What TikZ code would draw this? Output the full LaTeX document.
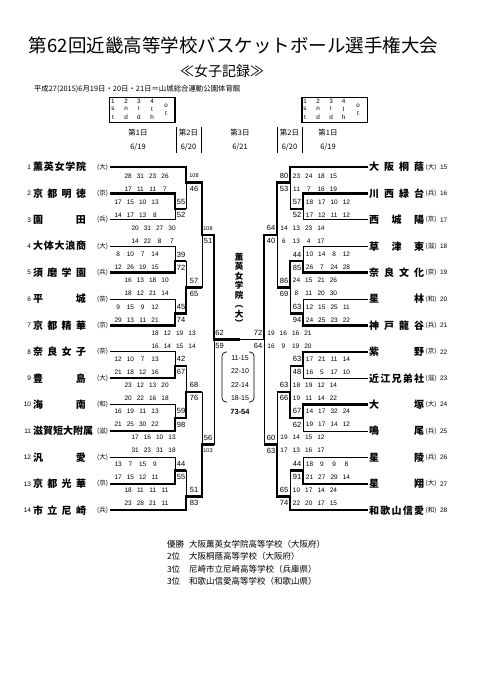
\documentclass[tikz,border=0pt]{standalone}
\usepackage{fontspec}
\setmainfont{Noto Sans CJK JP}
\newfontfamily\nf{Liberation Sans}
\newcommand\qq[4]{\makebox[12.3pt]{#1}\makebox[12.3pt]{#2}\makebox[12.3pt]{#3}\makebox[12.3pt]{#4}}
\newcommand\smn[1]{{\fontsize{5.5}{5.5}\selectfont #1}}
\begin{document}
\begin{tikzpicture}[x=1pt,y=-1pt,
  every node/.style={inner sep=0pt,outer sep=0pt},
  thinl/.style={line width=0.7pt},
  winl/.style={line width=2.4pt,line join=miter},
  legbox/.style={line width=1.1pt},
  sc/.style={font=\nf\fontsize{7.5}{7.5}\selectfont},
  qL/.style={font=\nf\fontsize{6.5}{6.5}\selectfont,anchor=east},
  qR/.style={font=\nf\fontsize{6.5}{6.5}\selectfont,anchor=west},
  tname/.style={font=\bfseries\fontsize{10}{10}\selectfont,anchor=west},
  pref/.style={font=\fontsize{6.5}{6.5}\selectfont},
  tnum/.style={font=\nf\fontsize{6.5}{6.5}\selectfont},
  hdr/.style={font=\fontsize{7.5}{7.5}\selectfont},
  leg/.style={font=\nf\fontsize{6.3}{6.3}\selectfont},
  res/.style={font=\fontsize{8.5}{8.5}\selectfont,anchor=west},
]
\fill[white] (0,0) rectangle (481,680);
\useasboundingbox (0,0) rectangle (481,680);

% title
\node[font=\fontsize{18.5}{18.5}\selectfont] (title) at (233.5,45) {第62回近畿高等学校バスケットボール選手権大会};
\node[font=\fontsize{14}{14}\selectfont] (subtitle) at (222,71) {≪女子記録≫};
\node[font=\fontsize{7.4}{7.4}\selectfont,anchor=west] (info) at (34,89) {平成27(2015)6月19日・20日・21日＝山城総合運動公園体育館};

% legends
\draw[legbox] (109.5,97.5) rectangle (175,122.5);
\draw[legbox] (302,97.5) rectangle (367.5,122.5);
\foreach \k/\xa/\xb/\m/\b in {1/113/305/s/t, 2/126/318/n/d, 3/139/331/r/d, 4/152/343.5/t/h}{
  \node[leg] (la\k) at (\xa,101.5) {\k};
  \node[leg] (lb\k) at (\xa,109.3) {\m};
  \node[leg] (lc\k) at (\xa,117) {\b};
  \node[leg] (ra\k) at (\xb,101.5) {\k};
  \node[leg] (rb\k) at (\xb,109.3) {\m};
  \node[leg] (rc\k) at (\xb,117) {\b};
}
\node[leg] (lo) at (166,105.5) {o}; \node[leg] (lt) at (166,113) {t};
\node[leg] (ro) at (358,105.5) {o}; \node[leg] (rt) at (358,113) {t};

% day headers
\foreach \nm/\x/\dn/\dt in {a/138/1/19, b/188.5/2/20, c/240/3/21, d/289.5/2/20, e/328/1/19}{
  \node[hdr] (dh\nm) at (\x,133) {第\dn 日};
  \node[hdr] (dd\nm) at (\x,147) {6/\dt};
}
\draw[thinl] (176,127) -- (176,153) (201,127) -- (201,153) (277,127) -- (277,153) (302,127) -- (302,153);

% x levels and outputs
\coordinate (xLa) at (175,0); \coordinate (xLb) at (186,0); \coordinate (xLc) at (202,0); \coordinate (xLd) at (214,0);
\coordinate (xRa) at (303,0); \coordinate (xRb) at (290,0); \coordinate (xRc) at (277,0); \coordinate (xRd) at (264,0);
\coordinate (xC) at (240,0);
\foreach \j/\y in {0/182.6,1/208.8,2/234.9,3/261.1,4/287.3,5/313.5,6/339.6,7/365.8,8/392.0,9/418.1,10/444.3,11/470.5,12/496.6}{
  \coordinate (o\j) at (0,\y);
}

% teams left
\foreach \i/\y/\nm/\pf in {1/167.0/{薫\hfill 英\hfill 女\hfill 学\hfill 院}/大,
  2/193.4/{京\hfill 都\hfill 明\hfill 徳}/京, 3/219.8/{園\hfill 田}/兵,
  4/246.2/{大\hfill 体\hfill 大\hfill 浪\hfill 商}/大, 5/272.6/{須\hfill 磨\hfill 学\hfill 園}/兵,
  6/299.0/{平\hfill 城}/奈, 7/325.4/{京\hfill 都\hfill 精\hfill 華}/京,
  8/351.8/{奈\hfill 良\hfill 女\hfill 子}/奈, 9/378.2/{豊\hfill 島}/大,
  10/404.6/{海\hfill 南}/和, 11/431.0/{滋賀短大附属}/滋,
  12/457.4/{汎\hfill 愛}/大, 13/483.8/{京\hfill 都\hfill 光\hfill 華}/京,
  14/510.2/{市\hfill 立\hfill 尼\hfill 崎}/兵}{
  \coordinate (t\i) at (110,\y);
  \node[tnum,anchor=east] (nn\i) at (31,\y) {\i};
  \node[tname] (tn\i) at (33,\y) {\makebox[53pt][l]{\nm}};
  \node[pref] (pf\i) at (102.5,\y) {(\pf)};
}
% teams right
\foreach \i/\y/\nm/\pf in {15/167.0/{大\hfill 阪\hfill 桐\hfill 蔭}/大,
  16/193.4/{川\hfill 西\hfill 緑\hfill 台}/兵, 17/219.8/{西\hfill 城\hfill 陽}/京,
  18/246.2/{草\hfill 津\hfill 東}/滋, 19/272.6/{奈\hfill 良\hfill 文\hfill 化}/奈,
  20/299.0/{星\hfill 林}/和, 21/325.4/{神\hfill 戸\hfill 龍\hfill 谷}/兵,
  22/351.8/{紫\hfill 野}/京, 23/378.2/{近\hfill 江\hfill 兄\hfill 弟\hfill 社}/滋,
  24/404.6/{大\hfill 塚}/大, 25/431.0/{鳴\hfill 尾}/兵,
  26/457.4/{星\hfill 陵}/兵, 27/483.8/{星\hfill 翔}/大,
  28/510.2/{和\hfill 歌\hfill 山\hfill 信\hfill 愛}/和}{
  \coordinate (t\i) at (368,\y);
  \node[tname] (tn\i) at (369,\y) {\makebox[55pt][l]{\nm}};
  \node[pref] (pf\i) at (431,\y) {(\pf)};
  \node[tnum,anchor=west] (nn\i) at (440,\y) {\i};
}

% thin bracket lines, left
\draw[thinl] (t1) -- (t1-|xLb) -- (o1-|xLb) -- (o1-|xLa);
\draw[thinl] (t2) -- (t2-|xLa) -- (t3-|xLa) -- (t3);
\draw[thinl] (o0-|xLb) -- (o0-|xLc) -- (o4-|xLc) -- (o4-|xLb);
\draw[thinl] (t4) -- (t4-|xLa) -- (t5-|xLa) -- (t5);
\draw[thinl] (o3-|xLa) -- (o3-|xLb) -- (o5-|xLb) -- (o5-|xLa);
\draw[thinl] (t6) -- (t6-|xLa) -- (t7-|xLa) -- (t7);
\draw[thinl] (o2-|xLc) -- (o2-|xLd) -- (o10-|xLd) -- (o10-|xLc);
\draw[thinl] (t8) -- (t8-|xLa) -- (t9-|xLa) -- (t9);
\draw[thinl] (o7-|xLa) -- (o7-|xLb) -- (o9-|xLb) -- (o9-|xLa);
\draw[thinl] (t10) -- (t10-|xLa) -- (t11-|xLa) -- (t11);
\draw[thinl] (o8-|xLb) -- (o8-|xLc) -- (o12-|xLc) -- (o12-|xLb);
\draw[thinl] (t12) -- (t12-|xLa) -- (t13-|xLa) -- (t13);
\draw[thinl] (o11-|xLa) -- (o11-|xLb) -- (t14-|xLb) -- (t14);
% thin bracket lines, right
\draw[thinl] (t15) -- (t15-|xRb) -- (o1-|xRb) -- (o1-|xRa);
\draw[thinl] (t16) -- (t16-|xRa) -- (t17-|xRa) -- (t17);
\draw[thinl] (o0-|xRb) -- (o0-|xRc) -- (o4-|xRc) -- (o4-|xRb);
\draw[thinl] (t18) -- (t18-|xRa) -- (t19-|xRa) -- (t19);
\draw[thinl] (o3-|xRa) -- (o3-|xRb) -- (o5-|xRb) -- (o5-|xRa);
\draw[thinl] (t20) -- (t20-|xRa) -- (t21-|xRa) -- (t21);
\draw[thinl] (o2-|xRc) -- (o2-|xRd) -- (o10-|xRd) -- (o10-|xRc);
\draw[thinl] (t22) -- (t22-|xRa) -- (t23-|xRa) -- (t23);
\draw[thinl] (o7-|xRa) -- (o7-|xRb) -- (o9-|xRb) -- (o9-|xRa);
\draw[thinl] (t24) -- (t24-|xRa) -- (t25-|xRa) -- (t25);
\draw[thinl] (o8-|xRb) -- (o8-|xRc) -- (o12-|xRc) -- (o12-|xRb);
\draw[thinl] (t26) -- (t26-|xRa) -- (t27-|xRa) -- (t27);
\draw[thinl] (o11-|xRa) -- (o11-|xRb) -- (t28-|xRb) -- (t28);
% final
\draw[thinl] (o6-|xLd) -- (o6-|xRd);

% winners, left
\draw[winl] (t1) -- (t1-|xLb) -- (o0-|xLb) -- (o0-|xLc) -- (o2-|xLc) -- (o2-|xLd) -- (o6-|xLd) -- (o6-|xC);
\draw[winl] (t2) -- (t2-|xLa) -- (o1-|xLa) -- (o1-|xLb);
\draw[winl] (t5) -- (t5-|xLa) -- (o3-|xLa) -- (o3-|xLb);
\draw[winl] (t7) -- (t7-|xLa) -- (o5-|xLa) -- (o5-|xLb) -- (o4-|xLb) -- (o4-|xLc);
\draw[winl] (t9) -- (t9-|xLa) -- (o7-|xLa) -- (o7-|xLb);
\draw[winl] (t11) -- (t11-|xLa) -- (o9-|xLa) -- (o9-|xLb) -- (o8-|xLb) -- (o8-|xLc);
\draw[winl] (t13) -- (t13-|xLa) -- (o11-|xLa) -- (o11-|xLb);
\draw[winl] (t14) -- (t14-|xLb) -- (o12-|xLb) -- (o12-|xLc) -- (o10-|xLc) -- (o10-|xLd);
% winners, right
\draw[winl] (t15) -- (t15-|xRb) -- (o0-|xRb) -- (o0-|xRc) -- (o2-|xRc) -- (o2-|xRd) -- (o6-|xRd);
\draw[winl] (t16) -- (t16-|xRa) -- (o1-|xRa) -- (o1-|xRb);
\draw[winl] (t19) -- (t19-|xRa) -- (o3-|xRa) -- (o3-|xRb) -- (o4-|xRb) -- (o4-|xRc);
\draw[winl] (t21) -- (t21-|xRa) -- (o5-|xRa) -- (o5-|xRb);
\draw[winl] (t22) -- (t22-|xRa) -- (o7-|xRa) -- (o7-|xRb);
\draw[winl] (t24) -- (t24-|xRa) -- (o9-|xRa) -- (o9-|xRb) -- (o8-|xRb) -- (o8-|xRc);
\draw[winl] (t27) -- (t27-|xRa) -- (o11-|xRa) -- (o11-|xRb);
\draw[winl] (t28) -- (t28-|xRb) -- (o12-|xRb) -- (o12-|xRc) -- (o10-|xRc) -- (o10-|xRd);

% scores, left
\foreach \nm/\xs/\xq/\y/\s/\a/\b/\c/\d in {
  L0u/194/171.2/176.0/{\smn{108}}/28/31/23/26, L0d/194/171.2/189.1/46/17/11/11/7,
  L1u/181/161.2/202.2/55/17/15/10/13, L1d/181/161.2/215.2/52/14/17/13/8,
  L2u/208/178.2/228.3/{\smn{108}}/20/31/27/30, L2d/208/178.2/241.4/51/14/22/8/7,
  L3u/181/161.2/254.5/39/8/10/7/14, L3d/181/161.2/267.6/72/12/26/19/15,
  L4u/194/171.2/280.6/57/16/13/18/10, L4d/194/171.2/293.7/65/18/12/21/14,
  L5u/181/161.2/306.8/45/9/15/9/12, L5d/181/161.2/319.9/74/29/13/11/21,
  L6u/219.5/198.2/333.0/62/18/12/19/13, L6d/219.5/198.2/346.0/59/16/14/15/14,
  L7u/181/161.2/359.1/42/12/10/7/13, L7d/181/161.2/372.2/67/21/18/12/16,
  L8u/194/171.2/385.3/68/23/12/13/20, L8d/194/171.2/398.4/76/20/22/16/18,
  L9u/181/161.2/411.4/59/16/19/11/13, L9d/181/161.2/424.5/98/21/25/30/22,
  L10u/208/178.2/437.6/56/17/16/10/13, L10d/208/178.2/450.7/{\smn{103}}/31/23/31/18,
  L11u/181/161.2/463.8/44/13/7/15/9, L11d/181/161.2/476.8/55/17/15/12/11,
  L12u/194/171.2/489.9/51/18/11/11/11, L12d/194/171.2/503.0/83/23/28/21/11}{
  \node[sc] (s\nm) at (\xs,\y) {\s};
  \node[qL] (q\nm) at (\xq,\y) {\qq{\a}{\b}{\c}{\d}};
}
% scores, right
\foreach \nm/\xs/\xq/\y/\s/\a/\b/\c/\d in {
  R0u/284/290.4/176.0/80/23/24/18/15, R0d/284/290.4/189.1/53/11/7/16/19,
  R1u/297/303.4/202.2/57/18/17/10/12, R1d/297/303.4/215.2/52/17/12/11/12,
  R2u/271/277.9/228.3/64/14/13/23/14, R2d/271/277.9/241.4/40/6/13/4/17,
  R3u/297/303.4/254.5/44/10/14/8/12, R3d/297/303.4/267.6/85/26/7/24/28,
  R4u/284/290.4/280.6/86/24/15/21/26, R4d/284/290.4/293.7/69/8/11/20/30,
  R5u/297/303.4/306.8/63/12/15/25/11, R5d/297/303.4/319.9/94/24/25/23/22,
  R6u/258/264.9/333.0/72/19/16/16/21, R6d/258/264.9/346.0/64/16/9/19/20,
  R7u/297/303.4/359.1/63/17/21/11/14, R7d/297/303.4/372.2/48/16/5/17/10,
  R8u/284/290.4/385.3/63/18/19/12/14, R8d/284/290.4/398.4/66/19/11/14/22,
  R9u/297/303.4/411.4/67/14/17/32/24, R9d/297/303.4/424.5/62/19/17/14/12,
  R10u/271/277.9/437.6/60/19/14/15/12, R10d/271/277.9/450.7/63/17/13/16/17,
  R11u/297/303.4/463.8/44/18/9/9/8, R11d/297/303.4/476.8/91/21/27/29/14,
  R12u/284/290.4/489.9/65/10/17/14/24, R12d/284/290.4/503.0/74/22/20/17/15}{
  \node[sc] (s\nm) at (\xs,\y) {\s};
  \node[qR] (q\nm) at (\xq,\y) {\qq{\a}{\b}{\c}{\d}};
}

% champion and final score
\node[font=\bfseries\fontsize{8.5}{9.5}\selectfont,align=center] (champ) at (239,290) {薫\\英\\女\\学\\院\\︵\\大\\︶};
\foreach \k/\y/\t in {1/358/11-15, 2/371.5/22-10, 3/385/22-14, 4/398/18-15}{
  \node[font=\nf\fontsize{7}{7}\selectfont] (fq\k) at (240,\y) {\t};
}
\node[font=\nf\bfseries\fontsize{7.5}{7.5}\selectfont] (ftot) at (240,412) {73-54};
\draw[thinl,rounded corners=4pt] (227,352) -- (222,352) -- (222,402) -- (227,402);
\draw[thinl,rounded corners=4pt] (249,352) -- (254,352) -- (254,402) -- (249,402);

% results
\foreach \k/\y/\l/\t in {1/544/優勝/大阪薫英女学院高等学校（大阪府）, 2/556.5/2位/大阪桐蔭高等学校（大阪府）,
  3/569/3位/尼崎市立尼崎高等学校（兵庫県）, 4/581.5/3位/和歌山信愛高等学校（和歌山県）}{
  \node[res] (rl\k) at (167,\y) {\l};
  \node[res] (rs\k) at (189,\y) {\t};
}
\end{tikzpicture}
\end{document}
